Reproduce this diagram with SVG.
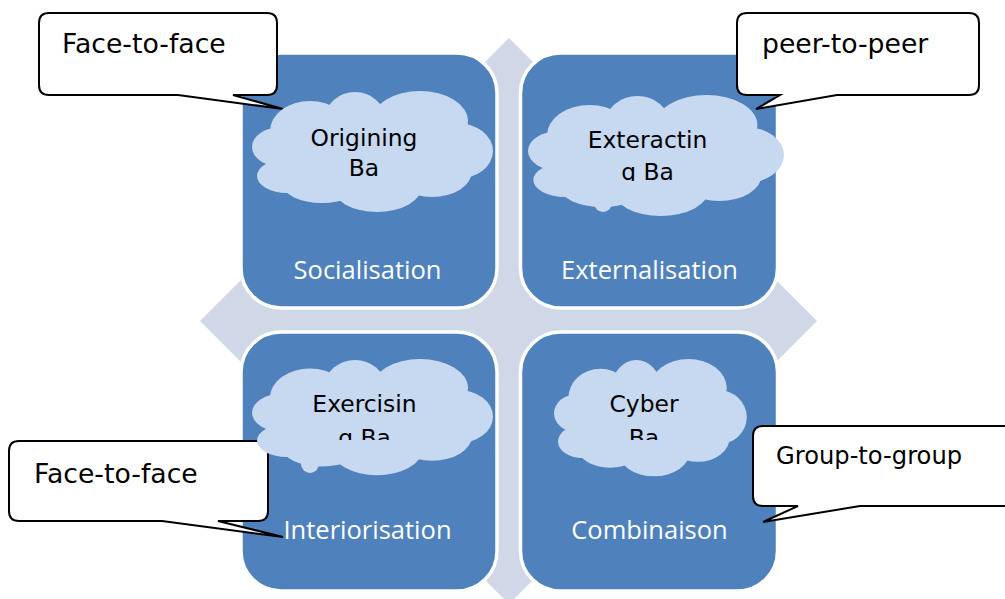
<svg xmlns="http://www.w3.org/2000/svg" xmlns:xlink="http://www.w3.org/1999/xlink" width="1005" height="599" viewBox="0 0 1005 599">
<style>
.box{fill:#4F81BD;stroke:#FFFFFF;stroke-width:3.5}
.cloud{fill:#C6D9F1}
.lbl{font-family:"Open Sans","DejaVu Sans",sans-serif;font-size:25.5px;fill:#FFFFFF;text-anchor:middle}
.ctext{font-family:"DejaVu Sans","Liberation Sans",sans-serif;font-size:23.4px;fill:#000000;text-anchor:middle}
.callout{fill:#FFFFFF;stroke:#000000;stroke-width:2;stroke-linejoin:miter}
.ctxt{font-family:"DejaVu Sans","Liberation Sans",sans-serif;font-size:26.7px;fill:#000000}
</style>
<defs>
<g id="cloudShape">
<ellipse cx="120" cy="60" rx="90" ry="40"/>
<ellipse cx="30" cy="56" rx="30" ry="20"/>
<ellipse cx="35" cy="85" rx="30" ry="17"/>
<ellipse cx="58" cy="40" rx="40" ry="30"/>
<ellipse cx="103" cy="28" rx="30" ry="27"/>
<ellipse cx="168" cy="30" rx="48" ry="30"/>
<ellipse cx="205" cy="60" rx="36" ry="28"/>
<ellipse cx="180" cy="80" rx="40" ry="26"/>
<ellipse cx="125" cy="95" rx="45" ry="26"/>
<ellipse cx="70" cy="92" rx="40" ry="20"/>
</g>
<clipPath id="clipTR"><rect x="520" y="50" width="260" height="131"/></clipPath>
<clipPath id="clipB"><rect x="240" y="340" width="540" height="100"/></clipPath>
</defs>
<g id="connectors">
<polygon fill="#D0D8E8" points="509,38 579,108 539,108 539,291 747,291 747,251 817,321 747,391 747,351 539,351 539,534 579,534 509,604 439,534 479,534 479,351 270,351 270,391 200,321 270,251 270,291 479,291 479,108 439,108"/>
</g>
<g id="node-socialisation">
<rect class="box" x="241" y="53" width="256" height="255" rx="40"/>
<text class="lbl" x="367.5" y="279">Socialisation</text>
</g>
<g id="node-externalisation">
<rect class="box" x="520.5" y="53" width="257" height="255" rx="40"/>
<text class="lbl" x="649.5" y="279">Externalisation</text>
</g>
<g id="node-interiorisation">
<rect class="box" x="241" y="332" width="256" height="259" rx="40"/>
<text class="lbl" x="367.5" y="539">Interiorisation</text>
</g>
<g id="node-combinaison">
<rect class="box" x="520.5" y="332" width="257" height="259" rx="40"/>
<text class="lbl" x="649.5" y="539">Combinaison</text>
</g>
<g id="callout-tl">
<path class="callout" d="M49,13 H267 Q277,13 277,23 V85 Q277,95 267,95 H233 L283,109 L178,95 H49 Q39,95 39,85 V23 Q39,13 49,13 Z"/>
<text class="ctxt" x="62" y="53">Face-to-face</text>
</g>
<g id="callout-tr">
<path class="callout" d="M747,13 H969 Q979,13 979,23 V85 Q979,95 969,95 H837 L756,109 L780,95 H747 Q737,95 737,85 V23 Q737,13 747,13 Z"/>
<text class="ctxt" x="762" y="53">peer-to-peer</text>
</g>
<g id="callout-bl">
<path class="callout" d="M19,441 H258 Q268,441 268,451 V511 Q268,521 258,521 H218 L283,537 L162,521 H19 Q9,521 9,511 V451 Q9,441 19,441 Z"/>
<text class="ctxt" x="34" y="483">Face-to-face</text>
</g>
<g id="callout-br">
<path class="callout" d="M763,426 H1020 V506 H860 L763,522 L798,506 H763 Q753,506 753,496 V436 Q753,426 763,426 Z"/>
<text class="ctxt" x="776" y="464" style="font-size:24.2px">Group-to-group</text>
</g>
<g id="cloud-origining">
<use xlink:href="#cloudShape" class="cloud" transform="translate(252,91)"/>
<text class="ctext" x="364" y="146">Origining</text>
<text class="ctext" x="364" y="176">Ba</text>
</g>
<g id="cloud-exteracting">
<use xlink:href="#cloudShape" class="cloud" transform="translate(528,95) scale(1.062,1)"/>
<circle class="cloud" cx="603" cy="203" r="9"/>
<text class="ctext" x="647.5" y="148">Exteractin</text>
<text class="ctext" x="647.5" y="180" clip-path="url(#clipTR)">g Ba</text>
</g>
<g id="cloud-exercising">
<use xlink:href="#cloudShape" class="cloud" transform="translate(252,359) scale(1,0.96)"/>
<circle class="cloud" cx="310" cy="464" r="9"/>
<text class="ctext" x="364.5" y="412">Exercisin</text>
<text class="ctext" x="364.5" y="446" clip-path="url(#clipB)">g Ba</text>
</g>
<g id="cloud-cyber">
<use xlink:href="#cloudShape" class="cloud" transform="translate(554,359) scale(0.80,0.97)"/>
<text class="ctext" x="644" y="412">Cyber</text>
<text class="ctext" x="644" y="446" clip-path="url(#clipB)">Ba</text>
</g>
</svg>
